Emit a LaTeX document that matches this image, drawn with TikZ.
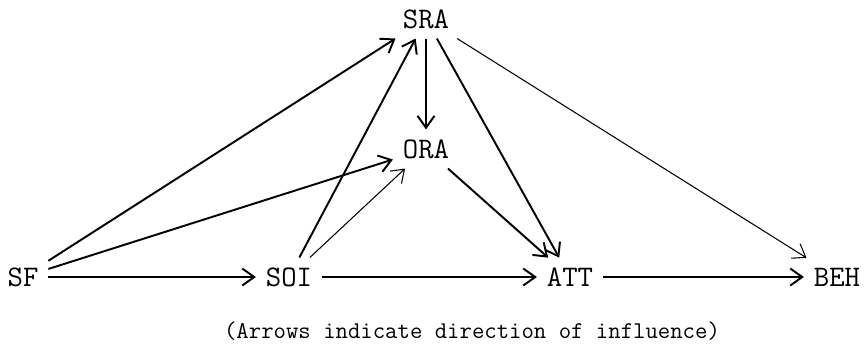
\documentclass[tikz,border=0pt]{standalone}
\usetikzlibrary{arrows.meta}
\begin{document}
\begin{tikzpicture}[x=0.02cm,y=-0.02cm,
  every node/.style={font=\ttfamily\fontsize{17}{20}\selectfont},
  var/.style={inner sep=5.5pt},
  infl/.style={-{Straight Barb[length=2.4mm,width=3.4mm]},line width=1.1pt},
  weak/.style={infl,line width=0.6pt}]
\useasboundingbox (0,0) rectangle (864,359);
% variables
\node[var] (SRA) at (426,19) {SRA};
\node[var] (ORA) at (426,149) {ORA};
\node[var] (SF) at (23,277) {SF};
\node[var] (SOI) at (289,277) {SOI};
\node[var] (ATT) at (570,277) {ATT};
\node[var] (BEH) at (837,277) {BEH};
% influences
\draw[infl] (SF) -- (SRA);
\draw[infl] (SF) -- (ORA);
\draw[infl] (SF) -- (SOI);
\draw[infl] (SOI) -- (SRA);
\draw[weak] (SOI) -- (ORA);
\draw[infl] (SOI) -- (ATT);
\draw[infl] (SRA) -- (ORA);
\draw[infl] (SRA) -- (ATT);
\draw[weak] (SRA) -- (BEH);
\draw[infl] (ORA) -- (ATT);
\draw[infl] (ATT) -- (BEH);
\node[font=\ttfamily\fontsize{13.7}{16}\selectfont] (note) at (472,331) {(Arrows indicate direction of influence)};
\end{tikzpicture}
\end{document}
